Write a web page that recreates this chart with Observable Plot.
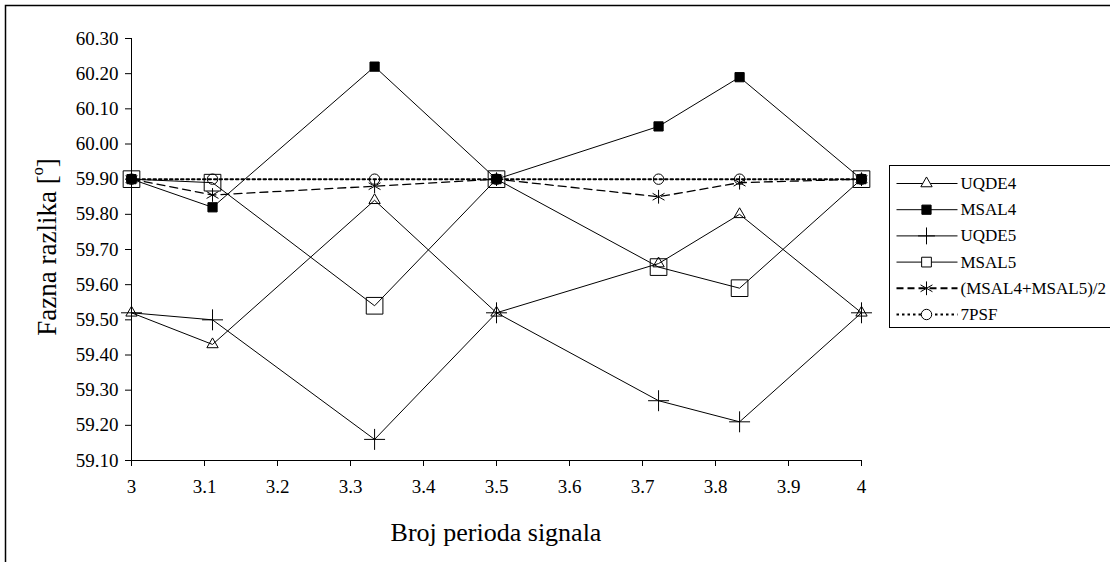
<!DOCTYPE html>
<html><head><meta charset="utf-8">
<script src="https://cdn.jsdelivr.net/npm/d3@7"></script>
<script src="https://cdn.jsdelivr.net/npm/@observablehq/plot@0.6"></script>
<style>
html,body{margin:0;padding:0;background:#fff;overflow:hidden;}
#chart{width:1110px;height:562px;overflow:hidden;position:relative;}
</style>
</head><body><div id="chart"></div>
<script>
// ---- data ----
const xs = [3, 3.111, 3.333, 3.5, 3.722, 3.833, 4];
const seriesNames = ["UQDE4", "MSAL4", "UQDE5", "MSAL5", "(MSAL4+MSAL5)/2", "7PSF"];
const uqde4 = [59.52, 59.43, 59.84, 59.52, 59.66, 59.80, 59.52];
const msal4 = [59.90, 59.82, 60.22, 59.90, 60.05, 60.19, 59.90];
const uqde5 = [59.52, 59.50, 59.16, 59.52, 59.27, 59.21, 59.52];
const msal5 = [59.90, 59.89, 59.54, 59.90, 59.65, 59.59, 59.90];
const avg45 = [59.90, 59.855, 59.88, 59.90, 59.85, 59.89, 59.90];
const psf7  = [59.90, 59.90, 59.90, 59.90, 59.90, 59.90, 59.90];
const yTicks = [59.1, 59.2, 59.3, 59.4, 59.5, 59.6, 59.7, 59.8, 59.9, 60.0, 60.1, 60.2, 60.3];
const xTicks = [3, 3.1, 3.2, 3.3, 3.4, 3.5, 3.6, 3.7, 3.8, 3.9, 4];
const xTitle = "Broj perioda signala";
const yTitle = "Fazna razlika [";

// ---- styles per series ----
const styles = [
  {values: uqde4, symbol: "triangle", r: 4.2, fill: "none", dash: null, lw: 1},
  {values: msal4, symbol: "square", r: 5.2, fill: "black", dash: null, lw: 1},
  {values: uqde5, symbol: "plus", r: 6.8, fill: "none", dash: null, lw: 1},
  {values: msal5, symbol: "square", r: 9.4, fill: "none", dash: null, lw: 1},
  {values: avg45, symbol: "asterisk", r: 6.5, fill: "none", dash: "8,5", lw: 1.3},
  {values: psf7, symbol: "circle", r: 5.2, fill: "none", dash: "2.5,3", lw: 2}
];

const marks = [
  Plot.ruleX([3], {stroke: "black", strokeWidth: 1}),
  Plot.ruleY([59.1], {stroke: "black", strokeWidth: 1}),
  Plot.axisY({ticks: yTicks, tickFormat: d => d.toFixed(2), tickSize: 6, tickPadding: 7, label: null, fontSize: 19}),
  Plot.axisX({ticks: xTicks, tickFormat: d => String(Math.round(d * 10) / 10), tickSize: 6, tickPadding: 13, label: null, fontSize: 19})
];
styles.forEach((s, k) => {
  const rows = xs.map((x, i) => ({x, y: s.values[i], series: seriesNames[k]}));
  marks.push(Plot.line(rows, {x: "x", y: "y", stroke: "black", strokeWidth: s.lw, strokeDasharray: s.dash}));
  marks.push(Plot.dot(rows, {x: "x", y: "y", symbol: () => s.symbol, r: s.r,
    fill: s.fill, stroke: "black", strokeWidth: 1}));
});

const plot = Plot.plot({
  width: 1110, height: 562,
  marginLeft: 131, marginRight: 249, marginTop: 38, marginBottom: 102,
  x: {domain: [3, 4]},
  y: {domain: [59.1, 60.3]},
  symbol: {type: "identity"},
  style: {fontFamily: "'Liberation Serif', 'Times New Roman', serif", fontSize: "19px", color: "black", background: "white"},
  marks
});
document.getElementById("chart").appendChild(plot);

const svg = d3.select(plot);
// outer frame (clipped on right/bottom like reference)
svg.append("rect").attr("x", 5.5).attr("y", 5.5).attr("width", 1200).attr("height", 700)
  .attr("fill", "none").attr("stroke", "black").attr("stroke-width", 1.5);

// axis titles
const yt = svg.append("text").attr("transform", "translate(47,247) rotate(-90)")
  .attr("text-anchor", "middle").attr("dominant-baseline", "central")
  .attr("font-size", 27).attr("fill", "black");
yt.append("tspan").text(yTitle);
yt.append("tspan").attr("font-size", 16).attr("dy", -10).text("o");
yt.append("tspan").attr("dy", 10).text("]");

svg.append("text").attr("x", 496).attr("y", 532).attr("text-anchor", "middle")
  .attr("dominant-baseline", "central").attr("font-size", 26).attr("fill", "black").text(xTitle);

// legend
const lg = svg.append("g").attr("transform", "translate(889.5,165.5)");
lg.append("rect").attr("width", 300).attr("height", 162).attr("fill", "white")
  .attr("stroke", "black").attr("stroke-width", 1);
const symMap = {triangle: d3.symbolTriangle, square: d3.symbolSquare, plus: d3.symbolPlus,
  asterisk: d3.symbolAsterisk, circle: d3.symbolCircle};
styles.forEach((s, k) => {
  const cy = 18 + k * 26.2;
  lg.append("line").attr("x1", 7).attr("x2", 68).attr("y1", cy).attr("y2", cy)
    .attr("stroke", "black").attr("stroke-width", s.dash ? 2 : 1)
    .attr("stroke-dasharray", s.dash ? (k === 4 ? "7,4" : "2.5,3") : null);
  const rr = k === 3 ? 5.5 : (k === 2 ? 5.5 : s.r);
  lg.append("path").attr("transform", `translate(37,${cy})`)
    .attr("d", d3.symbol(symMap[s.symbol], Math.PI * rr * rr)())
    .attr("fill", s.fill === "none" ? "white" : s.fill).attr("stroke", "black").attr("stroke-width", 1);
  lg.append("text").attr("x", 71).attr("y", cy).attr("dominant-baseline", "central")
    .attr("text-anchor", "start").attr("font-size", 17).attr("fill", "black").text(seriesNames[k]);
});
</script></body></html>
